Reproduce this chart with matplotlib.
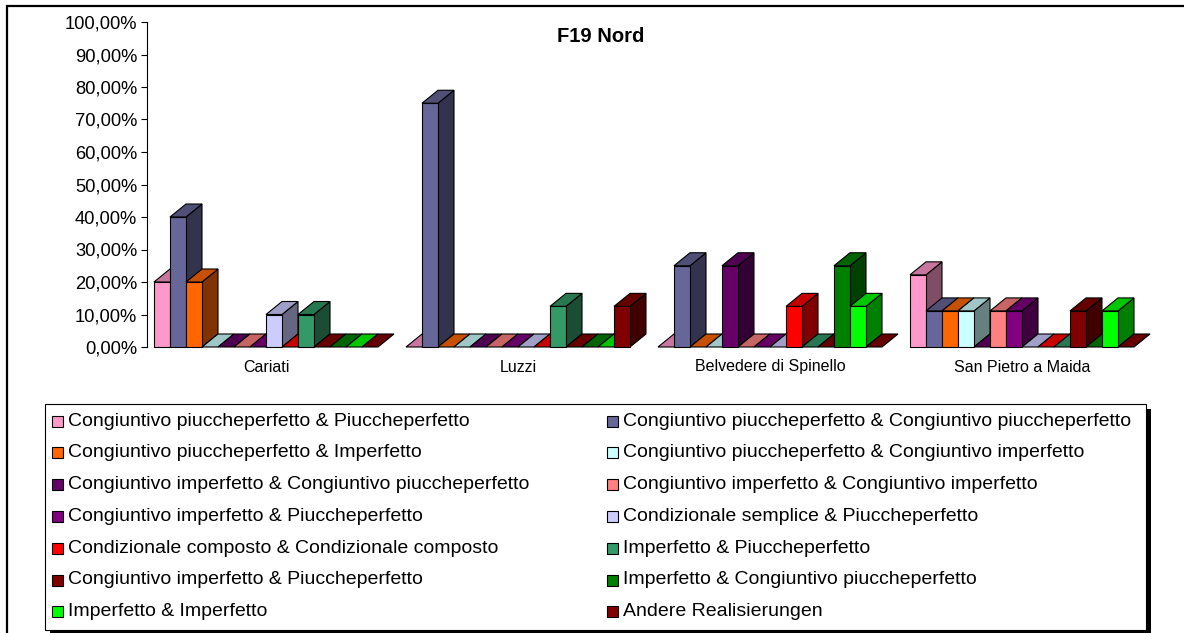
import numpy as np
import matplotlib
matplotlib.use("Agg")
import matplotlib.pyplot as plt
from matplotlib.patches import Rectangle, Polygon
from matplotlib.colors import to_rgb

plt.rcParams['font.family'] = ['Liberation Sans', 'DejaVu Sans']

# Dati: quote per località e per tipo di realizzazione
categories = ["Cariati", "Luzzi", "Belvedere di Spinello", "San Pietro a Maida"]

series_names = [
    "Congiuntivo piuccheperfetto & Piuccheperfetto",
    "Congiuntivo piuccheperfetto & Congiuntivo piuccheperfetto",
    "Congiuntivo piuccheperfetto & Imperfetto",
    "Congiuntivo piuccheperfetto & Congiuntivo imperfetto",
    "Congiuntivo imperfetto & Congiuntivo piuccheperfetto",
    "Congiuntivo imperfetto & Congiuntivo imperfetto",
    "Congiuntivo imperfetto & Piuccheperfetto",
    "Condizionale semplice & Piuccheperfetto",
    "Condizionale composto & Condizionale composto",
    "Imperfetto & Piuccheperfetto",
    "Congiuntivo imperfetto & Piuccheperfetto",
    "Imperfetto & Congiuntivo piuccheperfetto",
    "Imperfetto & Imperfetto",
    "Andere Realisierungen",
]

series_colors = [
    "#FF99CC", "#666699", "#FF6600", "#CCFFFF", "#660066", "#FF8080", "#800080",
    "#CCCCFF", "#FF0000", "#339966", "#800000", "#008000", "#00FF00", "#800000",
]

# una riga per località, una colonna per serie
cariati = [0.20, 0.40, 0.20, 0, 0, 0, 0, 0.10, 0, 0.10, 0, 0, 0, 0]
luzzi = [0, 0.75, 0, 0, 0, 0, 0, 0, 0, 0.125, 0, 0, 0, 0.125]
belvedere = [0, 0.25, 0, 0, 0.25, 0, 0, 0, 0.125, 0, 0, 0.25, 0.125, 0]
san_pietro = [0.222, 0.111, 0.111, 0.111, 0, 0.111, 0.111, 0, 0, 0, 0.111, 0, 0.111, 0]
values = np.array([cariati, luzzi, belvedere, san_pietro])

W, H = 1184, 633
fig = plt.figure(figsize=(W / 100, H / 100), dpi=100)


def fx(x):
    return x / W


def fy(y):
    return 1 - y / H


# area del grafico
ax = fig.add_axes([fx(147), fy(347), fx(1155) - fx(147), fy(22) - fy(347)])
ax.set_xlim(0, len(categories))
ax.set_ylim(0, 1)

n = len(series_names)
bw = 16 / 252          # larghezza di una colonna (unità categoria)
gap = 7 / 252          # margine sinistro del gruppo
# profondità 3D in pixel -> unità dati
ax_w = ax.bbox.width
ax_h = ax.bbox.height
dx = 16 * len(categories) / ax_w
dy = 13 * 1.0 / ax_h


def shade(c, f):
    r, g, b = to_rgb(c)
    return (r * f, g * f, b * f)


z = 2
for i in range(len(categories)):
    for j in range(n):
        h = values[i, j]
        x0 = i + gap + j * bw
        c = series_colors[j]
        if h > 0:
            side = Polygon([(x0 + bw, 0), (x0 + bw + dx, dy), (x0 + bw + dx, h + dy), (x0 + bw, h)],
                           closed=True, fc=shade(c, 0.5), ec="black", lw=0.8, zorder=z, clip_on=False)
            ax.add_patch(side)
        top = Polygon([(x0, h), (x0 + bw, h), (x0 + bw + dx, h + dy), (x0 + dx, h + dy)],
                      closed=True, fc=shade(c, 0.78), ec="black", lw=0.8, zorder=z + 0.1, clip_on=False)
        ax.add_patch(top)
        if h > 0:
            ax.add_patch(Rectangle((x0, 0), bw, h, fc=c, ec="black", lw=0.8, zorder=z + 0.2, clip_on=False))
        z += 1

# assi
for s in ["top", "right", "bottom"]:
    ax.spines[s].set_visible(False)
ax.spines["left"].set_linewidth(0.8)
yt = np.arange(0, 1.01, 0.1)
ax.set_yticks(yt)
ax.set_yticklabels([f"{v * 100:.2f}%".replace(".", ",") for v in yt], fontsize=13.2)
ax.tick_params(axis="y", length=4, width=0.8, pad=3)
ax.set_xticks([i + gap + n * bw / 2 for i in range(len(categories))])
ax.set_xticklabels(categories, fontsize=11.5)
ax.tick_params(axis="x", length=0, pad=9)
ax.patch.set_alpha(0)

fig.text(fx(601), fy(36), "F19 Nord", ha="center", va="center", fontsize=14.5, fontweight="bold")

# cornice esterna
fig.patches.append(Rectangle((fx(7), fy(640)), fx(1200) - fx(7), fy(6) - fy(640),
                             transform=fig.transFigure, fill=False, ec="black", lw=1.6))

# legenda a due colonne con ombra
lx0, ly0, lx1, ly1 = 45, 404, 1146, 630
fig.patches.append(Rectangle((fx(lx0 + 5), fy(ly1 + 5)), fx(lx1) - fx(lx0), fy(ly0) - fy(ly1),
                             transform=fig.transFigure, fc="black", ec="none", zorder=1))
fig.patches.append(Rectangle((fx(lx0), fy(ly1)), fx(lx1) - fx(lx0), fy(ly0) - fy(ly1),
                             transform=fig.transFigure, fc="white", ec="black", lw=0.8, zorder=2))
row0, row_step = 421, 31.8
col_marker = [52, 607]
for k, (name, c) in enumerate(zip(series_names, series_colors)):
    r, col = divmod(k, 2)
    yc = row0 + r * row_step
    mx = col_marker[col]
    fig.patches.append(Rectangle((fx(mx), fy(yc + 5.5)), fx(11), 11 / H,
                                 transform=fig.transFigure, fc=c, ec="black", lw=0.8, zorder=3))
    fig.text(fx(mx + 16), fy(yc), name, ha="left", va="center", fontsize=14, zorder=4)

fig.savefig("out.png", dpi=100)
